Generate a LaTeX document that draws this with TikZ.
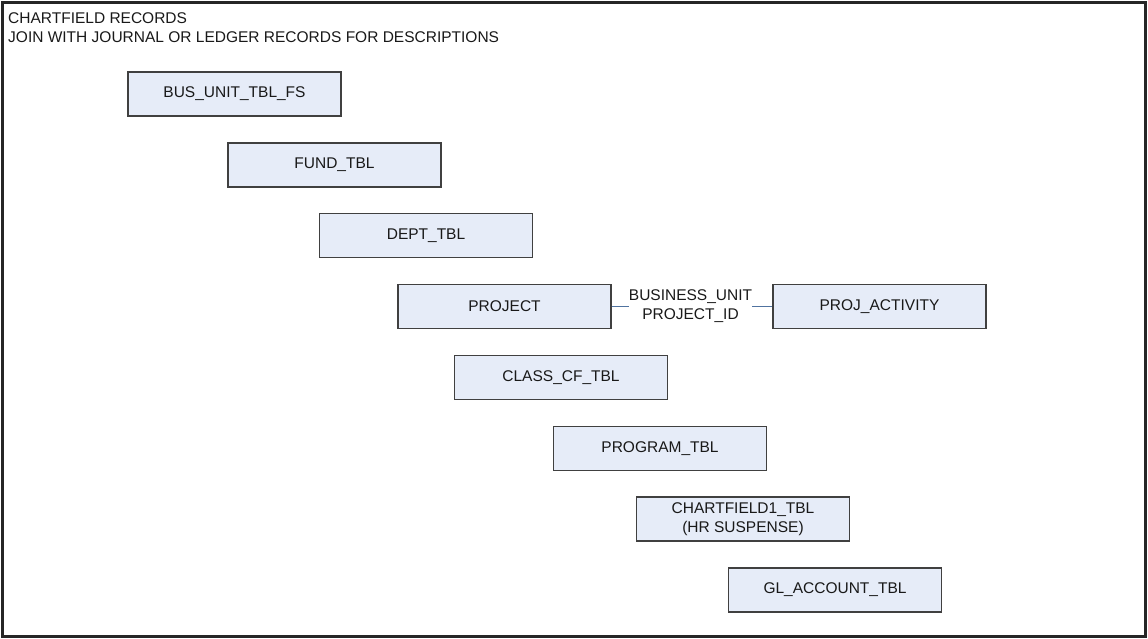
\documentclass[tikz,border=0pt]{standalone}
\usepackage{fontspec}
\setmainfont{Liberation Sans}
\begin{document}
\begin{tikzpicture}[x=1pt,y=-1pt,
  tbl/.style={draw=black!75,line width=1.3pt,fill=boxfill,minimum width=213pt,minimum height=44pt,
    inner sep=0pt,align=center,font=\fontsize{15.5}{19}\selectfont,text=black!90},
  lbl/.style={inner xsep=0pt,inner ysep=1pt,align=center,font=\fontsize{15.5}{19}\selectfont,text=black!90},
  conn/.style={draw=linkblue,line width=1pt}]
\definecolor{boxfill}{RGB}{230,236,248}
\definecolor{linkblue}{RGB}{80,115,160}
\useasboundingbox (0,0) rectangle (1148,639);
\draw[line width=3pt,black!85] (2.5,2.5) rectangle (1145.5,636.5);
\node[lbl,anchor=north west,align=left] (title) at (8,11)
  {CHARTFIELD RECORDS\\JOIN WITH JOURNAL OR LEDGER RECORDS FOR DESCRIPTIONS};
\node[tbl] (bus) at (234.5,94) {BUS\_UNIT\_TBL\_FS};
\node[tbl] (fund) at (334.5,165) {FUND\_TBL};
\node[tbl] (dept) at (426,235.5) {DEPT\_TBL};
\node[tbl] (proj) at (504.5,306.5) {PROJECT};
\node[tbl] (act) at (879.5,306.5) {PROJ\_ACTIVITY};
\node[tbl] (class) at (561,377.5) {CLASS\_CF\_TBL};
\node[tbl] (prog) at (660,448.5) {PROGRAM\_TBL};
\node[tbl] (cf1) at (743,519) {CHARTFIELD1\_TBL\\(HR SUSPENSE)};
\node[tbl] (gl) at (835,590) {GL\_ACCOUNT\_TBL};
\node[lbl] (key) at (690.5,306) {BUSINESS\_UNIT\\PROJECT\_ID};
\draw[conn] (proj.east) -- (proj.east -| key.west);
\draw[conn] (act.west -| key.east) -- (act.west);
\end{tikzpicture}
\end{document}
